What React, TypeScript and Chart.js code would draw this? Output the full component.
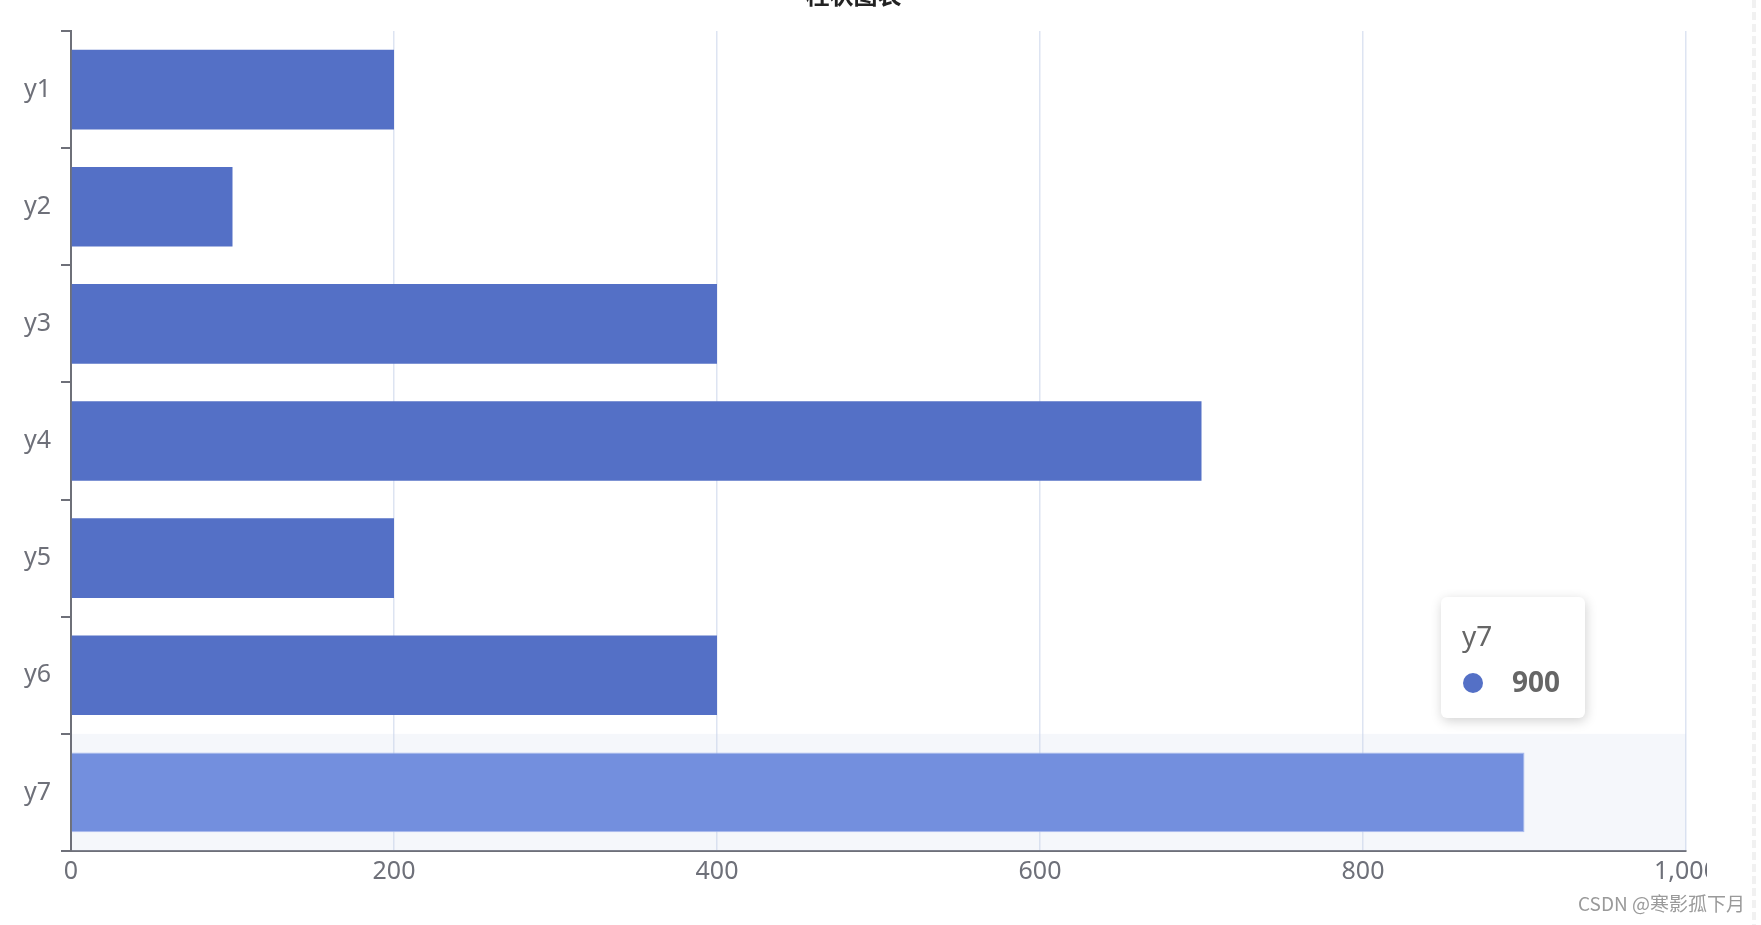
import React, { useEffect, useRef } from "react";
import { Chart, registerables } from "chart.js";

Chart.register(...registerables);

const categories = ["y1", "y2", "y3", "y4", "y5", "y6", "y7"];
const values = [200, 100, 400, 700, 200, 400, 900];
const xTicks = [0, 200, 400, 600, 800, 1000];
const hoverIndex = 6;
const titleText = "柱状图表";
const watermark = "CSDN @寒影孤下月";

const FONT = "'Noto Sans', 'Noto Sans CJK SC', sans-serif";

const hoverBand = {
  id: "hoverBand",
  beforeDatasetsDraw(chart: any) {
    const { ctx, chartArea, scales } = chart;
    const y = scales.y;
    const c = y.getPixelForValue(hoverIndex);
    const half = (y.getPixelForValue(1) - y.getPixelForValue(0)) / 2;
    ctx.save();
    ctx.fillStyle = "rgba(200,210,232,0.18)";
    ctx.fillRect(chartArea.left + 1, c - half, chartArea.right - chartArea.left - 1, half * 2);
    ctx.restore();
  },
};

export default function App() {
  const ref = useRef<HTMLCanvasElement>(null);
  useEffect(() => {
    if (!ref.current) return;
    const chart = new Chart(ref.current, {
      type: "bar",
      data: {
        labels: categories,
        datasets: [
          {
            data: values,
            backgroundColor: values.map((_, i) => (i === hoverIndex ? "#738FDE" : "#5470C6")),
            borderColor: values.map((_, i) => (i === hoverIndex ? "#A9BBEF" : "#5470C6")),
            borderWidth: values.map((_, i) => (i === hoverIndex ? 1 : 0)),
            categoryPercentage: 1,
            barPercentage: 0.68,
          },
        ],
      },
      plugins: [hoverBand],
      options: {
        indexAxis: "y",
        responsive: false,
        animation: false,
        devicePixelRatio: 1,
        layout: { padding: { top: 31, right: 75, left: 0, bottom: 0 } },
        plugins: {
          legend: { display: false },
          tooltip: { enabled: false },
          title: { display: false },
        },
        scales: {
          x: {
            type: "linear",
            min: 0,
            max: 1000,
            afterBuildTicks: (s: any) => {
              s.ticks = xTicks.map((v) => ({ value: v }));
            },
            afterFit: (s: any) => {
              s.height = 74;
            },
            ticks: {
              color: "#6E7079",
              font: { size: 25, family: FONT },
              padding: 6,
            },
            grid: { color: "#DDE4F2", lineWidth: 1.5, drawTicks: false },
            border: { display: true, color: "#6E7079", width: 2 },
          },
          y: {
            type: "category",
            afterFit: (s: any) => {
              s.width = 71;
            },
            ticks: {
              color: "#6E7079",
              font: { size: 25, family: FONT },
              padding: 10,
            },
            grid: {
              offset: true,
              drawOnChartArea: false,
              drawTicks: true,
              tickLength: 10,
              color: "#6E7079",
              lineWidth: 2,
            },
            border: { display: true, color: "#6E7079", width: 2 },
          },
        },
      },
    } as any);
    return () => chart.destroy();
  }, []);

  return (
    <div style={{ position: "absolute", left: 0, top: 0, width: 1761, height: 925, overflow: "hidden", background: "#fff" }}>
      <div style={{ position: "absolute", left: 0, top: 0, width: 1707, height: 925, overflow: "hidden" }}>
        <canvas ref={ref} width={1761} height={925} style={{ width: 1761, height: 925, display: "block" }} />
      </div>
      <div
        style={{
          position: "absolute",
          left: 0,
          width: 1707,
          top: -18,
          textAlign: "center",
          fontFamily: "'Noto Sans CJK SC', sans-serif",
          fontWeight: 700,
          fontSize: 24,
          lineHeight: "24px",
          color: "#222",
        }}
      >
        {titleText}
      </div>
      <div
        style={{
          position: "absolute",
          left: 1441,
          top: 597,
          width: 144,
          height: 121,
          background: "#fff",
          borderRadius: 6,
          boxShadow: "1px 3px 12px rgba(0,0,0,0.18)",
          fontFamily: FONT,
          color: "#666",
        }}
      >
        <div style={{ position: "absolute", left: 21, top: 24, fontSize: 28, lineHeight: "28px" }}>
          {categories[hoverIndex]}
        </div>
        <div
          style={{
            position: "absolute",
            left: 22,
            top: 76,
            width: 20,
            height: 20,
            borderRadius: 10,
            background: "#5470C6",
          }}
        />
        <div
          style={{
            position: "absolute",
            right: 25,
            top: 70,
            fontSize: 28,
            lineHeight: "28px",
            fontWeight: 700,
          }}
        >
          {values[hoverIndex]}
        </div>
      </div>
      <div
        style={{
          position: "absolute",
          left: 1752,
          top: 0,
          width: 4,
          height: 925,
          background: "repeating-linear-gradient(to bottom, #F1F1F1 0px, #F1F1F1 8px, transparent 8px, transparent 12px)",
        }}
      />
      <div
        style={{
          position: "absolute",
          left: 1578,
          top: 892,
          fontSize: 19,
          lineHeight: "22px",
          fontFamily: "'Noto Sans CJK SC', sans-serif",
          color: "#9a9a9a",
          whiteSpace: "nowrap",
        }}
      >
        {watermark}
      </div>
    </div>
  );
}
